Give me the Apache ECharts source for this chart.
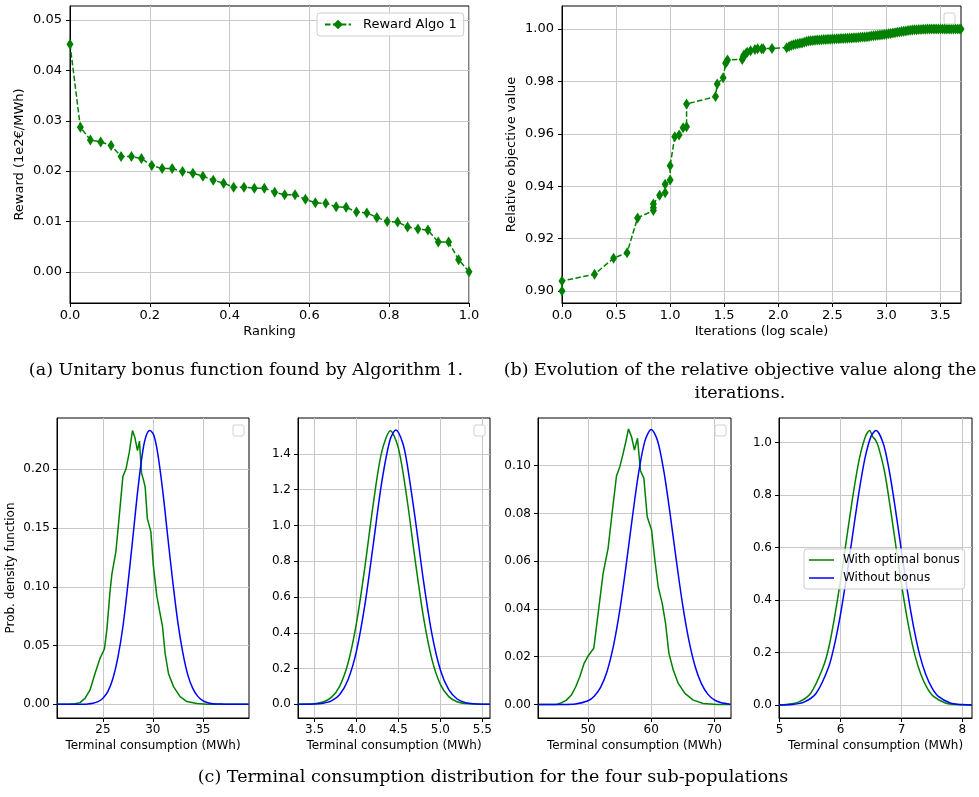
<!DOCTYPE html>
<html><head><meta charset="utf-8">
<script src="https://cdn.jsdelivr.net/npm/echarts@6/dist/echarts.min.js"></script>
<style>html,body{margin:0;padding:0;background:#fff}#c{width:979px;height:797px}</style>
</head><body><div id="c"></div><script>
// ---------- (a) reward vs ranking ----------
const rankX = [0, 0.026, 0.051, 0.077, 0.103, 0.128, 0.154, 0.179, 0.205, 0.231, 0.256, 0.282, 0.308, 0.333, 0.359, 0.385, 0.41, 0.436, 0.462, 0.487, 0.513, 0.538, 0.564, 0.59, 0.615, 0.641, 0.667, 0.692, 0.718, 0.744, 0.769, 0.795, 0.821, 0.846, 0.872, 0.897, 0.923, 0.949, 0.974, 1.0];
const rewardY = [0.0452,0.0287,0.0262,0.0258,0.0251,0.0229,0.0229,0.0225,0.0211,0.0205,0.0205,0.0199,0.0196,0.0190,0.0182,0.0176,0.0168,0.0168,0.0166,0.0166,0.0158,0.0153,0.0153,0.0144,0.0137,0.0136,0.0129,0.0128,0.0119,0.0117,0.0108,0.0100,0.0099,0.0089,0.0085,0.0083,0.0059,0.0059,0.0024,0.0000];
const aXTicks = [0, 0.2, 0.4, 0.6, 0.8, 1.0];
const aYTicks = [0, 0.01, 0.02, 0.03, 0.04, 0.05];

// ---------- (b) relative objective vs log iterations ----------
const iterLogEarly = [0, 0, 0.301, 0.477, 0.602, 0.699, 0.845, 0.845, 0.845, 0.903, 0.954, 0.954, 1.0, 1.0, 1.043, 1.083, 1.12, 1.152, 1.152, 1.42, 1.435, 1.49, 1.513, 1.522, 1.531, 1.667, 1.675, 1.682, 1.699, 1.713, 1.744, 1.784, 1.809, 1.846, 1.861, 1.942, 2.078];
const objValEarly = [0.900, 0.9038, 0.9064, 0.9125, 0.9146, 0.9279, 0.9307, 0.9318, 0.9332, 0.9365, 0.9375, 0.9407, 0.9424, 0.9478, 0.9589, 0.9595, 0.9623, 0.9627, 0.9714, 0.9742, 0.9790, 0.9814, 0.9869, 0.9875, 0.9882, 0.9884, 0.9893, 0.9901, 0.9906, 0.9911, 0.9917, 0.9922, 0.9925, 0.9925, 0.9925, 0.9926, 0.9929];
const iterLogLate = [2.10, 2.12, 2.14, 2.16, 2.18, 2.20, 2.22, 2.24, 2.26, 2.28, 2.30, 2.32, 2.34, 2.36, 2.38, 2.40, 2.42, 2.44, 2.46, 2.48, 2.50, 2.52, 2.54, 2.56, 2.58, 2.60, 2.62, 2.64, 2.66, 2.68, 2.70, 2.72, 2.74, 2.76, 2.78, 2.80, 2.82, 2.84, 2.86, 2.88, 2.90, 2.92, 2.94, 2.96, 2.98, 3.00, 3.02, 3.04, 3.06, 3.08, 3.10, 3.12, 3.14, 3.16, 3.18, 3.20, 3.22, 3.24, 3.26, 3.28, 3.30, 3.32, 3.34, 3.36, 3.38, 3.40, 3.42, 3.44, 3.46, 3.48, 3.50, 3.52, 3.54, 3.56, 3.58, 3.60, 3.62, 3.64, 3.66, 3.68, 3.69];
const objValLate = [0.9933, 0.9937, 0.9940, 0.9942, 0.9944, 0.9946, 0.9947, 0.9950, 0.9952, 0.9954, 0.9955, 0.9956, 0.9957, 0.9958, 0.9958, 0.9959, 0.9960, 0.9960, 0.9961, 0.9961, 0.9962, 0.9962, 0.9963, 0.9963, 0.9964, 0.9964, 0.9965, 0.9965, 0.9966, 0.9966, 0.9967, 0.9967, 0.9968, 0.9969, 0.9970, 0.9970, 0.9971, 0.9972, 0.9973, 0.9974, 0.9975, 0.9976, 0.9977, 0.9978, 0.9979, 0.9980, 0.9982, 0.9983, 0.9985, 0.9986, 0.9988, 0.9989, 0.9991, 0.9992, 0.9993, 0.9994, 0.9995, 0.9996, 0.9997, 0.9997, 0.9998, 0.9998, 0.9999, 0.9999, 1.0, 1.0, 1.0, 1.0, 1.0, 1.0, 1.0, 1.0, 1.0, 1.0, 1.0, 1.0, 1.0, 1.0, 1.0, 1.0, 1.0];
const bXTicks = [0, 0.5, 1.0, 1.5, 2.0, 2.5, 3.0, 3.5];
const bYTicks = [0.90, 0.92, 0.94, 0.96, 0.98, 1.00];

// ---------- (c) densities: [consumption, pdf] ----------
const c1Green = [[20.4,0],[21.5,0],[22.2,0.0005],[22.7,0.0014],[23.2,0.005],[23.7,0.012],[24.2,0.026],[24.7,0.039],[25.15,0.047],[25.4,0.064],[25.7,0.095],[25.9,0.111],[26.3,0.130],[26.6,0.157],[27.0,0.194],[27.3,0.200],[27.63,0.214],[27.96,0.233],[28.2,0.227],[28.46,0.216],[28.66,0.224],[28.86,0.197],[29.06,0.191],[29.23,0.185],[29.45,0.158],[29.8,0.147],[30.05,0.118],[30.4,0.092],[30.73,0.077],[30.97,0.066],[31.23,0.043],[31.57,0.026],[32.07,0.015],[32.73,0.0065],[33.4,0.0023],[34.4,0.0006],[35.4,0],[39.6,0]];
const c1Blue = [[20.4,0],[22,0],[23,0.0001],[23.5,0.0003],[24,0.0009],[24.5,0.0022],[25,0.0051],[25.5,0.011],[26,0.022],[26.5,0.040],[27,0.066],[27.5,0.102],[28,0.142],[28.5,0.183],[29,0.216],[29.35,0.229],[29.7,0.233],[30.1,0.229],[30.5,0.213],[31,0.181],[31.5,0.142],[32,0.104],[32.5,0.070],[33,0.044],[33.5,0.025],[34,0.0135],[34.5,0.0067],[35,0.0031],[35.5,0.0013],[36,0.0005],[37,0.0001],[38,0],[39.6,0]];
const c2Green = [[3.3,0],[3.4,0.001],[3.5,0.0036],[3.6,0.0127],[3.7,0.0388],[3.8,0.102],[3.9,0.232],[4.0,0.455],[4.1,0.769],[4.2,1.121],[4.3,1.410],[4.405,1.53],[4.5,1.431],[4.6,1.155],[4.7,0.804],[4.8,0.483],[4.9,0.250],[5.0,0.1115],[5.1,0.0429],[5.2,0.0143],[5.3,0.0041],[5.4,0.001],[5.59,0]];
const c2Blue = [[3.3,0],[3.5,0.001],[3.6,0.0057],[3.7,0.019],[3.8,0.055],[3.9,0.139],[4.0,0.299],[4.1,0.557],[4.2,0.895],[4.3,1.239],[4.4,1.479],[4.47,1.534],[4.55,1.463],[4.6,1.354],[4.7,1.037],[4.8,0.686],[4.9,0.391],[5.0,0.192],[5.1,0.0815],[5.2,0.0298],[5.3,0.0094],[5.4,0.0025],[5.5,0.0006],[5.59,0]];
const c3Green = [[42.1,0],[45.0,0],[45.8,0.0007],[46.56,0.0018],[47.35,0.0039],[48.04,0.0074],[48.68,0.0116],[49.37,0.0172],[50.0,0.0203],[50.9,0.0235],[51.59,0.0381],[52.38,0.0549],[53.17,0.0654],[53.86,0.0814],[54.5,0.0957],[55.03,0.0996],[55.56,0.1052],[55.98,0.1101],[56.4,0.1154],[56.88,0.1122],[57.35,0.1066],[57.83,0.1115],[58.3,0.0979],[58.84,0.0947],[59.37,0.0786],[60.06,0.0731],[60.58,0.0605],[61.11,0.0493],[61.75,0.0423],[62.28,0.0339],[62.81,0.0214],[63.5,0.0144],[64.29,0.0088],[65.34,0.0046],[66.67,0.0018],[68.25,0.0004],[70.4,0],[72.6,0]];
const c3Blue = [[42.1,0],[46,0],[48,0.0002],[50,0.0015],[51,0.0035],[52,0.0072],[53,0.0138],[54,0.0243],[55,0.0391],[56,0.0577],[57,0.078],[58,0.0969],[59,0.1103],[60,0.1152],[61,0.1106],[62,0.0978],[63,0.0798],[64,0.060],[65,0.0415],[66,0.0265],[67,0.0156],[68,0.0085],[69,0.0042],[70,0.0019],[71,0.0008],[72,0.0003],[72.6,0]];
const c4Green = [[4.99,0],[5.11,0.002],[5.31,0.0108],[5.51,0.0446],[5.71,0.1416],[5.81,0.222],[5.91,0.346],[6.01,0.491],[6.11,0.651],[6.21,0.808],[6.31,0.940],[6.41,1.024],[6.475,1.046],[6.53,1.022],[6.575,1.010],[6.62,0.985],[6.72,0.892],[6.82,0.747],[6.92,0.586],[7.02,0.430],[7.12,0.296],[7.22,0.190],[7.32,0.115],[7.42,0.065],[7.52,0.034],[7.72,0.0078],[7.92,0.0014],[8.157,0]];
const c4Blue = [[4.99,0],[5.2,0.002],[5.4,0.0108],[5.6,0.0446],[5.8,0.1416],[5.9,0.229],[6.0,0.346],[6.1,0.491],[6.2,0.651],[6.3,0.808],[6.4,0.940],[6.5,1.024],[6.58,1.046],[6.7,0.998],[6.8,0.892],[6.9,0.747],[7.0,0.586],[7.1,0.430],[7.2,0.296],[7.3,0.190],[7.4,0.115],[7.5,0.065],[7.6,0.034],[7.8,0.0078],[8.0,0.0014],[8.157,0]];
const c1XTicks = [25, 30, 35], c1YTicks = [0, 0.05, 0.10, 0.15, 0.20];
const c2XTicks = [3.5, 4.0, 4.5, 5.0, 5.5], c2YTicks = [0, 0.2, 0.4, 0.6, 0.8, 1.0, 1.2, 1.4];
const c3XTicks = [50, 60, 70], c3YTicks = [0, 0.02, 0.04, 0.06, 0.08, 0.10];
const c4XTicks = [5, 6, 7, 8], c4YTicks = [0, 0.2, 0.4, 0.6, 0.8, 1.0];

const GREEN = '#008000', BLUE = '#0000ff';
const F = 'DejaVu Sans', SERIF = 'DejaVu Serif';
const GRIDC = '#c8c8c8';

function ax(gi, min, max, ticks, dec, name, fs, gap, margin) {
  return {
    type: 'value', gridIndex: gi, min: min, max: max,
    name: name, nameLocation: 'middle', nameGap: gap,
    nameTextStyle: { fontFamily: F, fontSize: fs, color: '#000' },
    axisLine: { show: true, onZero: false, lineStyle: { color: '#000', width: 1 } },
    axisTick: { show: true, length: 4, inside: false, customValues: ticks, lineStyle: { color: '#000', width: 1 } },
    axisLabel: { show: true, customValues: ticks, margin: margin, fontFamily: F, fontSize: fs, color: '#000',
      formatter: function (v) { return dec < 0 ? String(Math.round(v)) : Number(v).toFixed(dec); } },
    splitLine: { show: true, lineStyle: { color: GRIDC, width: 1 } }
  };
}
function grid(l, t, w, h) {
  return { left: l, top: t, width: w, height: h, show: true, borderColor: '#000', borderWidth: 1,
    backgroundColor: 'transparent', containLabel: false, outerBoundsMode: 'none' };
}
const dash = [5.5, 2.4];
const pairs = (xs, ys) => xs.map((x, i) => [x, ys[i]]);

const grids = [
  grid(70, 6, 399, 297),
  grid(562, 6, 399, 297),
  grid(57, 418, 192, 300),
  grid(298, 418, 192, 300),
  grid(538, 418, 193, 300),
  grid(779, 418, 193, 300)
];
const xAxes = [
  ax(0, 0, 1, aXTicks, 1, 'Ranking', 13, 22, 6),
  ax(1, 0, 3.69, bXTicks, 1, 'Iterations (log scale)', 13, 22, 6),
  ax(2, 20.4, 39.63, c1XTicks, -1, 'Terminal consumption (MWh)', 12, 22, 6),
  ax(3, 3.302, 5.592, c2XTicks, 1, 'Terminal consumption (MWh)', 12, 22, 6),
  ax(4, 42.06, 72.65, c3XTicks, -1, 'Terminal consumption (MWh)', 12, 22, 6),
  ax(5, 4.99, 8.157, c4XTicks, -1, 'Terminal consumption (MWh)', 12, 22, 6)
];
const yAxes = [
  ax(0, -0.0062, 0.0528, aYTicks, 2, 'Reward (1e2€/MWh)', 13, 44, 8),
  ax(1, 0.8954, 1.0088, bYTicks, 2, 'Relative objective value', 13, 44, 8),
  ax(2, -0.0117, 0.2437, c1YTicks, 2, 'Prob. density function', 12, 40, 7),
  ax(3, -0.0766, 1.601, c2YTicks, 1, '', 12, 40, 7),
  ax(4, -0.0057, 0.120, c3YTicks, 2, '', 12, 40, 7),
  ax(5, -0.0496, 1.094, c4YTicks, 1, '', 12, 40, 7)
];

function curve(name, gi, data, color, smooth) {
  return { name: name, type: 'line', xAxisIndex: gi, yAxisIndex: gi, data: data, symbol: 'none',
    smooth: smooth, lineStyle: { color: color, width: 1.5 }, itemStyle: { color: color }, z: 3 };
}

const series = [
  { name: 'Reward Algo 1', type: 'line', xAxisIndex: 0, yAxisIndex: 0, data: pairs(rankX, rewardY),
    symbol: 'diamond', symbolSize: [7, 11], itemStyle: { color: GREEN },
    lineStyle: { color: GREEN, width: 1.5, type: dash }, z: 3 },
  { name: 'Objective', type: 'line', xAxisIndex: 1, yAxisIndex: 1,
    data: pairs(iterLogEarly, objValEarly).concat(pairs(iterLogLate, objValLate)),
    symbol: 'diamond', symbolSize: [7, 11], itemStyle: { color: GREEN },
    lineStyle: { color: GREEN, width: 1.5, type: dash }, z: 3 },
  curve('g1', 2, c1Green, GREEN, false),
  curve('b1', 2, c1Blue, BLUE, 0.3),
  curve('g2', 3, c2Green, GREEN, 0.3),
  curve('b2', 3, c2Blue, BLUE, 0.3),
  curve('g3', 4, c3Green, GREEN, false),
  curve('b3', 4, c3Blue, BLUE, 0.3),
  curve('With optimal bonus', 5, c4Green, GREEN, 0.3),
  curve('Without bonus', 5, c4Blue, BLUE, 0.3)
];

function emptyBox(x, y) {
  return { type: 'rect', shape: { x: x, y: y, width: 11, height: 11, r: 2 },
    style: { fill: '#fff', stroke: '#d0d0d0', lineWidth: 1 }, z: 10 };
}
function caption(text, x, y) {
  return { type: 'text', x: x, y: y, z: 10,
    style: { text: text, fontFamily: SERIF, fontSize: 17.5, fill: '#000', textAlign: 'center', textVerticalAlign: 'middle' } };
}

const option = {
  animation: false,
  backgroundColor: '#fff',
  grid: grids,
  xAxis: xAxes,
  yAxis: yAxes,
  legend: [
    { data: ['Reward Algo 1'], left: 317, top: 13, orient: 'horizontal', padding: [5, 7],
      itemWidth: 26, itemHeight: 12, backgroundColor: 'rgba(255,255,255,0.8)', borderColor: '#cccccc',
      borderWidth: 1, borderRadius: 3, selectedMode: false,
      textStyle: { fontFamily: F, fontSize: 13, color: '#000', lineHeight: 13, padding: [0, 0, 0, 7] } },
    { data: [{ name: 'With optimal bonus', icon: 'rect' }, { name: 'Without bonus', icon: 'rect' }],
      left: 804, top: 549, orient: 'vertical', padding: [4, 5],
      itemWidth: 25, itemHeight: 1.5, itemGap: 4, backgroundColor: 'rgba(255,255,255,0.8)', borderColor: '#cccccc',
      borderWidth: 1, borderRadius: 3, selectedMode: false,
      textStyle: { fontFamily: F, fontSize: 12, color: '#000', lineHeight: 14, padding: [0, 0, 0, 4] } }
  ],
  graphic: [
    emptyBox(944, 13), emptyBox(233, 425), emptyBox(474, 425), emptyBox(715, 425),
    caption('(a) Unitary bonus function found by Algorithm 1.', 246, 370),
    caption('(b) Evolution of the relative objective value along the', 740, 370),
    caption('iterations.', 740, 393),
    caption('(c) Terminal consumption distribution for the four sub-populations', 493, 777)
  ],
  series: series
};
const chart = echarts.init(document.getElementById('c'), null, { renderer: 'canvas' });
chart.setOption(option);
</script></body></html>
